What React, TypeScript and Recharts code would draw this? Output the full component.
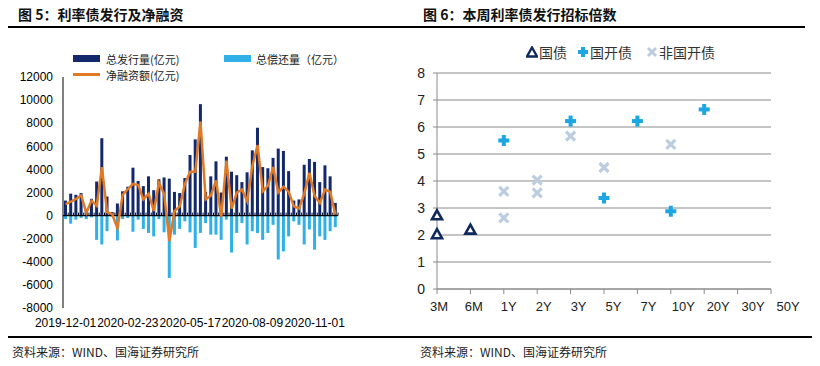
import React from "react";
import {
  ComposedChart, Bar, Line, XAxis, YAxis, ReferenceLine,
  ScatterChart, Scatter, CartesianGrid
} from "recharts";

// 图5 周度数据（亿元）
const weeks = [
  "2019-12-01", "2019-12-08", "2019-12-15", "2019-12-22", "2019-12-29",
  "2020-01-05", "2020-01-12", "2020-01-19", "2020-01-26",
  "2020-02-02", "2020-02-09", "2020-02-16", "2020-02-23",
  "2020-03-01", "2020-03-08", "2020-03-15", "2020-03-22", "2020-03-29",
  "2020-04-05", "2020-04-12", "2020-04-19", "2020-04-26",
  "2020-05-03", "2020-05-10", "2020-05-17", "2020-05-24", "2020-05-31",
  "2020-06-07", "2020-06-14", "2020-06-21", "2020-06-28",
  "2020-07-05", "2020-07-12", "2020-07-19", "2020-07-26",
  "2020-08-02", "2020-08-09", "2020-08-16", "2020-08-23", "2020-08-30",
  "2020-09-06", "2020-09-13", "2020-09-20", "2020-09-27",
  "2020-10-04", "2020-10-11", "2020-10-18", "2020-10-25",
  "2020-11-01", "2020-11-08", "2020-11-15", "2020-11-22", "2020-11-29"
];

const grossIssue = [
  1300, 1900, 1800, 1950, 550, 1450, 2950, 6700, 1650, 300, 1050, 2100, 2500,
  4150, 3000, 2550, 3400, 2200, 3150, 3300, 3200, 2050, 1950, 3250, 5250, 6600,
  9650, 2050, 3400, 4700, 2000, 5100, 3800, 3500, 2900, 3750, 5650, 7600, 4200,
  4100, 5000, 5800, 5600, 3850, 1300, 1400, 4400, 4900, 4650, 2900, 4350, 3400, 1100
];

const grossRepay = [
  -300, -700, -350, -200, -300, -150, -2100, -2500, -1350, -100, -2150, -300, -200,
  -1400, -350, -1150, -1500, -1800, -300, -1450, -5400, -1650, -1150, -500, -1450, -2800,
  -1500, -650, -1650, -1650, -2100, -350, -3200, -1500, -650, -2500, -1350, -1500, -2100,
  -1500, -800, -3800, -3100, -1800, -500, -800, -2500, -1200, -2950, -1800, -2100, -1350, -1000
];

const netFinancing = [
  1000, 1200, 1450, 1750, 250, 1300, 850, 4200, 300, 100, -1100, 1800, 2300,
  2750, 2650, 1400, 1900, 400, 2850, 1850, -2200, 400, 800, 2750, 3800, 3800,
  8150, 1400, 1750, 3050, -100, 4750, 600, 2000, 2250, 1250, 4300, 6100, 2100,
  2600, 4200, 2000, 2500, 2050, 800, 600, 1900, 3700, 1700, 1100, 2250, 2050, 100
];

const leftTicks = [-8000, -6000, -4000, -2000, 0, 2000, 4000, 6000, 8000, 10000, 12000];

// 图6 招标倍数
const tenors = ["3M", "6M", "1Y", "2Y", "3Y", "5Y", "7Y", "10Y", "20Y", "30Y", "50Y"];
const govTenors = ["3M", "3M", "6M"];
const govMultiples = [2.73, 2.03, 2.2];
const cdbTenors = ["1Y", "3Y", "5Y", "7Y", "10Y", "20Y"];
const cdbMultiples = [5.5, 6.22, 3.37, 6.22, 2.88, 6.65];
const nonCdbTenors = ["1Y", "1Y", "2Y", "2Y", "3Y", "5Y", "10Y"];
const nonCdbMultiples = [3.62, 2.63, 4.03, 3.56, 5.66, 4.5, 5.36];
const rightTicks = [0, 1, 2, 3, 4, 5, 6, 7, 8];

const NAVY = "#13296b";
const SKY = "#2fb0e6";
const ORANGE = "#e07a26";
const TRI = "#0f2a5c";
const PLUS = "#1ca6e2";
const CROSS = "#bccde2";
const GRID = "#8a8a8a";
const CJK = '"Noto Sans CJK SC", sans-serif';

const barData = weeks.map((week, i) => ({
  week,
  issue: grossIssue[i],
  repay: grossRepay[i],
  net: netFinancing[i]
}));

const toPoints = (t: string[], v: number[]) =>
  t.map((tenor, i) => ({ x: tenors.indexOf(tenor), y: v[i] }));

const govData = toPoints(govTenors, govMultiples);
const cdbData = toPoints(cdbTenors, cdbMultiples);
const nonCdbData = toPoints(nonCdbTenors, nonCdbMultiples);

const ZeroAxis = (props: any) => {
  const { x1, y1, x2 } = props;
  const step = (x2 - x1) / weeks.length;
  return (
    <g>
      <line x1={x1} y1={y1} x2={x2} y2={y1} stroke="#000" strokeWidth={1.2} />
      {weeks.map((_, i) => (
        <line key={i} x1={x1 + step * (i + 1)} x2={x1 + step * (i + 1)} y1={y1} y2={y1 - 3}
          stroke="#000" strokeWidth={1} />
      ))}
    </g>
  );
};

// Excel 的类别标签略向右偏移
const TenorTick = ({ x, y, payload, index }: any) => (
  <text x={x + 2 + index * 1.5} y={y} dy="0.71em" textAnchor="middle" fontSize={13}
    fill="#222" fontFamily="Liberation Sans, Arial">
    {tenors[payload.value]}
  </text>
);

const Triangle = ({ cx, cy }: any) => (
  <polygon points={`${cx},${cy - 5} ${cx + 5},${cy + 4} ${cx - 5},${cy + 4}`}
    fill="#fff" stroke={TRI} strokeWidth={2.6} strokeLinejoin="miter" />
);

const Plus = ({ cx, cy }: any) => (
  <g fill={PLUS}>
    <rect x={cx - 5.5} y={cy - 2} width={11} height={4} />
    <rect x={cx - 2} y={cy - 5.5} width={4} height={11} />
  </g>
);

const Cross = ({ cx, cy }: any) => (
  <g stroke={CROSS} strokeWidth={3.2}>
    <line x1={cx - 4.5} y1={cy - 4.5} x2={cx + 4.5} y2={cy + 4.5} />
    <line x1={cx - 4.5} y1={cy + 4.5} x2={cx + 4.5} y2={cy - 4.5} />
  </g>
);

const abs = (left: number, top: number, extra: React.CSSProperties = {}): React.CSSProperties => ({
  position: "absolute", left, top, ...extra
});

export default function App() {
  const legendText: React.CSSProperties = { fontFamily: CJK, fontSize: 11, color: "#222", lineHeight: "16px", whiteSpace: "nowrap" };
  const rightLegend: React.CSSProperties = { fontFamily: CJK, fontSize: 14, color: "#333", lineHeight: "18px", whiteSpace: "nowrap" };
  const footer: React.CSSProperties = { fontFamily: CJK, fontSize: 12, color: "#222", lineHeight: "14px", whiteSpace: "nowrap" };
  const title: React.CSSProperties = { fontFamily: CJK, fontSize: 14, fontWeight: 700, color: "#111", lineHeight: "18px", whiteSpace: "nowrap" };

  return (
    <div style={{ position: "absolute", left: 0, top: 0, width: 820, height: 366, background: "#fff", overflow: "hidden" }}>
      <div style={abs(18, 5, title)}>图 5：利率债发行及净融资</div>
      <div style={abs(423, 5, title)}>图 6：本周利率债发行招标倍数</div>
      <div style={abs(8, 26, { width: 797, height: 1.5, background: "#000" })} />

      <div style={abs(0, 0)}>
        <ComposedChart width={350} height={340} data={barData} stackOffset="sign"
          margin={{ top: 77, right: 12, bottom: 2, left: 8 }}>
          <XAxis dataKey="week" interval={11} axisLine={false} tickLine={false} height={30}
            tickSize={6} tickMargin={4}
            tick={{ fontSize: 12, fill: "#000", fontFamily: "Liberation Sans, Arial" }} />
          <YAxis domain={[-8000, 12000]} ticks={leftTicks} width={55} interval={0}
            axisLine={{ stroke: "#000" }} tickLine={false} tickSize={4} tickMargin={6}
            tick={{ fontSize: 12, fill: "#000", fontFamily: "Liberation Sans, Arial" }} />
          <Bar dataKey="issue" stackId="a" fill={NAVY} barSize={3} isAnimationActive={false} />
          <Bar dataKey="repay" stackId="a" fill={SKY} barSize={3} isAnimationActive={false} />
          <ReferenceLine y={0} shape={ZeroAxis} />
          <Line dataKey="net" type="linear" stroke={ORANGE} strokeWidth={2.5} dot={false}
            isAnimationActive={false} />
        </ComposedChart>
      </div>

      <div style={abs(73, 55, { width: 27, height: 7, background: NAVY })} />
      <div style={abs(106, 50.5, legendText)}>总发行量(亿元)</div>
      <div style={abs(224, 55, { width: 27, height: 7, background: SKY })} />
      <div style={abs(256, 50.5, legendText)}>总偿还量（亿元）</div>
      <div style={abs(73, 73, { width: 27, height: 3, background: ORANGE })} />
      <div style={abs(106, 66.5, legendText)}>净融资额(亿元)</div>

      <div style={abs(410, 0)}>
        <ScatterChart width={410} height={340} margin={{ top: 73, right: 49, bottom: 21, left: 0 }}>
          <CartesianGrid vertical={false} stroke={GRID} />
          <XAxis type="number" dataKey="x" domain={[0, 10]} ticks={tenors.map((_, i) => i)}
            interval={0} height={30} tick={<TenorTick />}
            axisLine={{ stroke: GRID }} tickLine={{ stroke: GRID }} tickSize={5} tickMargin={8} />
          <YAxis type="number" dataKey="y" domain={[0, 8]} ticks={rightTicks} interval={0} width={27}
            axisLine={{ stroke: GRID }} tickLine={{ stroke: GRID }} tickSize={4} tickMargin={8}
            tick={{ fontSize: 14, fill: "#222", fontFamily: "Liberation Sans, Arial" }} />
          <Scatter name="非国开债" data={nonCdbData} shape={Cross} isAnimationActive={false} />
          <Scatter name="国开债" data={cdbData} shape={Plus} isAnimationActive={false} />
          <Scatter name="国债" data={govData} shape={Triangle} isAnimationActive={false} />
        </ScatterChart>
      </div>

      <svg style={abs(526, 46)} width={12} height={12}>
        <polygon points="6,1.5 11,10.5 1,10.5" fill="#fff" stroke={TRI} strokeWidth={2.4} />
      </svg>
      <div style={abs(539, 43, rightLegend)}>国债</div>
      <svg style={abs(577, 46)} width={12} height={12}>
        <rect x={1} y={4} width={10} height={4} fill={PLUS} />
        <rect x={4} y={1} width={4} height={10} fill={PLUS} />
      </svg>
      <div style={abs(590, 43, rightLegend)}>国开债</div>
      <svg style={abs(646, 46)} width={12} height={12}>
        <line x1={2} y1={2} x2={10} y2={10} stroke={CROSS} strokeWidth={3} />
        <line x1={2} y1={10} x2={10} y2={2} stroke={CROSS} strokeWidth={3} />
      </svg>
      <div style={abs(659, 43, rightLegend)}>非国开债</div>

      <div style={abs(8, 336, { width: 804, height: 1.5, background: "#000" })} />
      <div style={abs(12, 345, footer)}>资料来源：WIND、国海证券研究所</div>
      <div style={abs(420, 345, footer)}>资料来源：WIND、国海证券研究所</div>
    </div>
  );
}
